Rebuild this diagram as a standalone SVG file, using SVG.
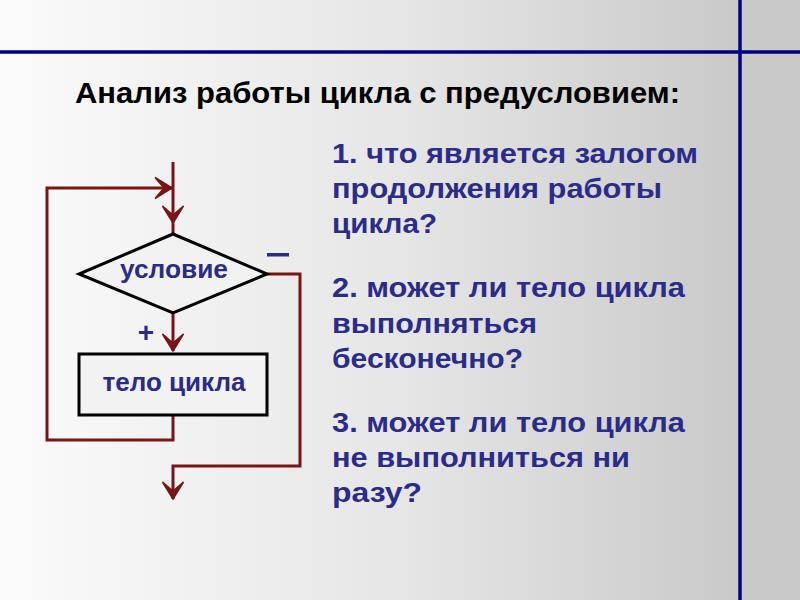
<svg xmlns="http://www.w3.org/2000/svg" width="800" height="600" viewBox="0 0 800 600">
<defs>
<linearGradient id="bg" x1="0" y1="0" x2="1" y2="0">
<stop offset="0" stop-color="#fbfbfb"/>
<stop offset="0.5" stop-color="#e6e6e6"/>
<stop offset="0.93" stop-color="#c9c9c9"/>
<stop offset="1" stop-color="#c8c8c8"/>
</linearGradient>
<marker id="arr" viewBox="-19 -12 21 24" markerWidth="21" markerHeight="24" refX="0" refY="0" orient="auto" markerUnits="userSpaceOnUse">
<path d="M0,0 L-17,-10.5 L-8,0 L-17,10.5 Z" fill="#7a1515" stroke="#7a1515" stroke-width="1.5" stroke-linejoin="miter"/>
</marker>
<style>
.conn{fill:none;stroke:#7a1515;stroke-width:3;stroke-linejoin:miter}
.shape{fill:#f2f2f2;stroke:#000;stroke-width:3}
.lbl{font-family:"Liberation Sans",Arial,sans-serif;font-weight:bold;fill:#2b2b8a}
.q{font-family:"Liberation Sans",Arial,sans-serif;font-weight:bold;fill:#2b2b8a;font-size:27px}
.title{font-family:"Liberation Sans",Arial,sans-serif;font-weight:bold;fill:#000;font-size:30px}
.frame{stroke:#000080;stroke-width:3.5}
</style>
</defs>
<rect width="800" height="600" fill="url(#bg)"/>
<line class="frame" x1="0" y1="52" x2="800" y2="52"/>
<line class="frame" x1="740" y1="0" x2="740" y2="600"/>
<text class="title" x="75" y="103" textLength="605" lengthAdjust="spacingAndGlyphs">Анализ работы цикла с предусловием:</text>

<g id="connectors">
<path class="conn" d="M173,162 V223" marker-end="url(#arr)"/>
<path class="conn" d="M173,223 V233"/>
<path class="conn" d="M173,415 V440 H47 V188 H172" marker-end="url(#arr)"/>
<path class="conn" d="M173,313 V351" marker-end="url(#arr)"/>
<path class="conn" d="M267,274 H300 V466 H173 V499" marker-end="url(#arr)"/>
</g>

<g id="condition">
<polygon class="shape" points="173,234 79,274 173,313 267,274"/>
<text class="lbl" x="174" y="278" font-size="25" text-anchor="middle" textLength="108" lengthAdjust="spacingAndGlyphs">условие</text>
</g>
<g id="minus-label"><rect x="267" y="253" width="22" height="3.5" fill="#2b2b8a"/></g>
<g id="plus-label"><text class="lbl" x="146" y="342" font-size="28" text-anchor="middle">+</text></g>
<g id="body">
<rect class="shape" x="79" y="354" width="188" height="61"/>
<text class="lbl" x="174" y="391" font-size="25" text-anchor="middle" textLength="143" lengthAdjust="spacingAndGlyphs">тело цикла</text>
</g>

<g id="questions">
<text class="q" x="332" y="163" textLength="366" lengthAdjust="spacingAndGlyphs">1. что является залогом</text>
<text class="q" x="332" y="198" textLength="330" lengthAdjust="spacingAndGlyphs">продолжения работы</text>
<text class="q" x="332" y="233" textLength="105" lengthAdjust="spacingAndGlyphs">цикла?</text>
<text class="q" x="332" y="297" textLength="353" lengthAdjust="spacingAndGlyphs">2. может ли тело цикла</text>
<text class="q" x="332" y="333" textLength="205" lengthAdjust="spacingAndGlyphs">выполняться</text>
<text class="q" x="332" y="368" textLength="191" lengthAdjust="spacingAndGlyphs">бесконечно?</text>
<text class="q" x="332" y="432" textLength="353" lengthAdjust="spacingAndGlyphs">3. может ли тело цикла</text>
<text class="q" x="332" y="467" textLength="298" lengthAdjust="spacingAndGlyphs">не выполниться ни</text>
<text class="q" x="332" y="502" textLength="90" lengthAdjust="spacingAndGlyphs">разу?</text>
</g>
</svg>
